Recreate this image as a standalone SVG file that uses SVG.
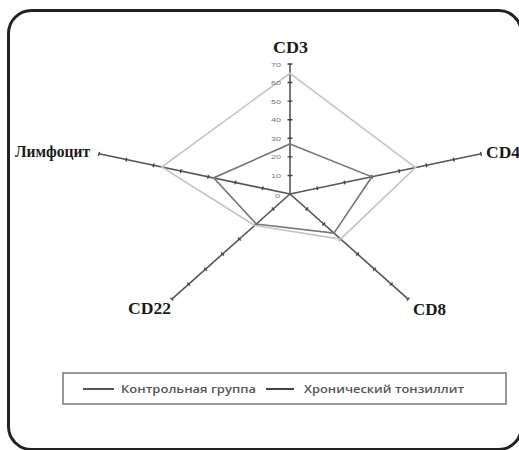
<svg xmlns="http://www.w3.org/2000/svg" width="519" height="450" viewBox="0 0 519 450">
<style>
.axis{stroke:#555;stroke-width:1.6;fill:none}
.tick{stroke:#444;stroke-width:1.4;fill:none}
.ctrl{stroke:#c4c4c4;stroke-width:1.6;fill:none;stroke-linejoin:miter}
.chron{stroke:#777;stroke-width:1.6;fill:none;stroke-linejoin:miter}
.lbl{font-family:"Liberation Serif",serif;font-weight:bold;font-size:16px;fill:#1a1a1a}
.num{font-family:"Liberation Sans",sans-serif;font-size:6px;fill:#777;text-anchor:end}
.leg{font-family:"Open Sans","Liberation Sans",sans-serif;font-size:11px;font-weight:600;fill:#555}
</style>
<rect width="519" height="450" fill="#fff"/>
<rect id="frame" x="8.5" y="10.5" width="513" height="439" rx="23" fill="none" stroke="#222" stroke-width="3"/>

<g id="connectors">
<g id="axis-cd3">
<path class="axis" d="M290 194 L290 64"/>
<path class="tick" d="M287.5 175.43h5M287.5 156.86h5M287.5 138.29h5M287.5 119.71h5M287.5 101.14h5M287.5 82.57h5M287.5 64h5"/>
</g>
<g id="axis-cd4">
<path class="axis" d="M290 194 L481.03 153.82"/>
<path class="tick" d="M316.88 186.3L317.7 190.22M344.17 180.56L344.99 184.48M371.46 174.82L372.28 178.74M398.75 169.08L399.57 173M426.04 163.34L426.86 167.26M453.33 157.6L454.15 161.52M480.62 151.86L481.44 155.78"/>
</g>
<g id="axis-cd8">
<path class="axis" d="M290 194 L408.16 299.14"/>
<path class="tick" d="M308.21 207.52L305.55 210.52M325.09 222.54L322.43 225.54M341.97 237.56L339.31 240.56M358.85 252.58L356.19 255.58M375.73 267.6L373.07 270.6M392.61 282.62L389.95 285.62M409.49 297.64L406.83 300.64"/>
</g>
<g id="axis-cd22">
<path class="axis" d="M290 194 L171.84 299.14"/>
<path class="tick" d="M271.79 207.52L274.45 210.52M254.91 222.54L257.57 225.54M238.03 237.56L240.69 240.56M221.15 252.58L223.81 255.58M204.27 267.6L206.93 270.6M187.39 282.62L190.05 285.62M170.51 297.64L173.17 300.64"/>
</g>
<g id="axis-lymph">
<path class="axis" d="M290 194 L98.97 153.82"/>
<path class="tick" d="M263.12 186.3L262.3 190.22M235.83 180.56L235.01 184.48M208.54 174.82L207.72 178.74M181.25 169.08L180.43 173M153.96 163.34L153.14 167.26M126.67 157.6L125.85 161.52M99.38 151.86L98.56 155.78"/>
</g>
<g id="series-control">
<polygon class="ctrl" points="290,73.3 415.5,167.6 340.6,239.1 254.6,225.5 161.7,167"/>
</g>
<g id="series-chronic">
<polygon class="chron" points="290,143.9 371.9,176.8 333.9,233.1 256.2,224 213.6,177.9"/>
</g>
</g>

<g id="scale">
<text class="num" x="281" y="66.5" textLength="10" lengthAdjust="spacingAndGlyphs">70</text>
<text class="num" x="281" y="85" textLength="10" lengthAdjust="spacingAndGlyphs">60</text>
<text class="num" x="281" y="103.6" textLength="10" lengthAdjust="spacingAndGlyphs">50</text>
<text class="num" x="281" y="122.2" textLength="10" lengthAdjust="spacingAndGlyphs">40</text>
<text class="num" x="281" y="140.8" textLength="10" lengthAdjust="spacingAndGlyphs">30</text>
<text class="num" x="281" y="159.4" textLength="10" lengthAdjust="spacingAndGlyphs">20</text>
<text class="num" x="281" y="178" textLength="10" lengthAdjust="spacingAndGlyphs">10</text>
<text class="num" x="280" y="198" textLength="5" lengthAdjust="spacingAndGlyphs">0</text>
</g>

<g id="node-cd3"><text class="lbl" x="273" y="53" textLength="35" lengthAdjust="spacingAndGlyphs">CD3</text></g>
<g id="node-cd4"><text class="lbl" x="486" y="158" textLength="34" lengthAdjust="spacingAndGlyphs">CD4</text></g>
<g id="node-cd8"><text class="lbl" x="413" y="315" textLength="33" lengthAdjust="spacingAndGlyphs">CD8</text></g>
<g id="node-cd22"><text class="lbl" x="128" y="314" textLength="43" lengthAdjust="spacingAndGlyphs">CD22</text></g>
<g id="node-lymph"><text class="lbl" x="15" y="157" font-size="13.5" textLength="75" lengthAdjust="spacingAndGlyphs">Лимфоцит</text></g>

<g id="legend">
<rect x="63" y="373" width="443" height="31" fill="none" stroke="#777" stroke-width="1.5"/>
<line x1="83" y1="389" x2="114" y2="389" stroke="#555" stroke-width="2"/>
<text class="leg" x="121" y="393" textLength="135" lengthAdjust="spacingAndGlyphs">Контрольная группа</text>
<line x1="266" y1="389" x2="294" y2="389" stroke="#444" stroke-width="2"/>
<text class="leg" x="304" y="393" textLength="160" lengthAdjust="spacingAndGlyphs">Хронический тонзиллит</text>
</g>
</svg>
